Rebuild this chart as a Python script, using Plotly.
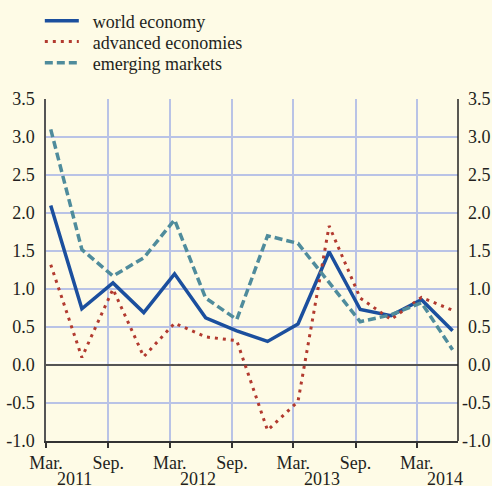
import plotly.graph_objects as go

quarters = ["2011-03-15", "2011-06-15", "2011-09-15", "2011-12-15",
            "2012-03-15", "2012-06-15", "2012-09-15", "2012-12-15",
            "2013-03-15", "2013-06-15", "2013-09-15", "2013-12-15",
            "2014-03-15", "2014-06-15"]

world = [2.10, 0.74, 1.08, 0.69, 1.20, 0.62, 0.45, 0.31, 0.54, 1.49, 0.73, 0.65, 0.86, 0.45]
advanced = [1.32, 0.10, 1.00, 0.11, 0.55, 0.37, 0.32, -0.86, -0.48, 1.83, 0.88, 0.60, 0.89, 0.72]
emerging = [3.10, 1.52, 1.17, 1.41, 1.91, 0.88, 0.60, 1.70, 1.60, 1.08, 0.57, 0.66, 0.82, 0.20]

series_names = ["world economy", "advanced economies", "emerging markets"]

x_tick_vals = ["2011-03-01", "2011-09-01", "2012-03-01", "2012-09-01",
               "2013-03-01", "2013-09-01", "2014-03-01"]
x_tick_text = ["Mar.", "Sep.", "Mar.", "Sep.", "Mar.", "Sep.", "Mar."]
years = ["2011", "2012", "2013", "2014"]

y_tick_vals = [-1.0, -0.5, 0.0, 0.5, 1.0, 1.5, 2.0, 2.5, 3.0, 3.5]
y_tick_text = ["%.1f" % v for v in y_tick_vals]

BG = "#FEFBE6"
GRID = "#B9C3E6"
FONT = "Liberation Serif"
FS = 18
TXT = "#231F20"
NB = "\u00a0\u00a0"

fig = go.Figure()
fig.add_trace(go.Scatter(x=quarters, y=world, mode="lines", name=NB + series_names[0],
                         legend="legend",
                         line=dict(color="#1B4F9E", width=3.5)))
fig.add_trace(go.Scatter(x=quarters, y=advanced, mode="lines", name=NB + series_names[1],
                         legend="legend2",
                         line=dict(color="#B23A2F", width=3, dash="3px,5px")))
fig.add_trace(go.Scatter(x=quarters, y=emerging, mode="lines", name=NB + series_names[2],
                         legend="legend3",
                         line=dict(color="#4F8C9C", width=3.5, dash="8px,4px")))

annotations = []
for yv, yt in zip(y_tick_vals, y_tick_text):
    annotations.append(dict(x=1, xref="paper", y=yv, yref="y", text=yt,
                            showarrow=False, xanchor="right", xshift=35,
                            font=dict(family=FONT, size=FS, color=TXT)))
for yr in years:
    annotations.append(dict(x=yr + "-05-24", xref="x", y=0, yref="paper",
                            text=yr, showarrow=False, yanchor="top", yshift=-26,
                            font=dict(family=FONT, size=FS, color=TXT)))

def legend_box(ycenter):
    return dict(x=-0.015, y=ycenter, xanchor="left", yanchor="middle",
                bgcolor="rgba(0,0,0,0)", borderwidth=0,
                font=dict(family=FONT, size=FS, color=TXT), itemwidth=34)

fig.update_layout(
    width=492, height=486,
    margin=dict(l=46, r=34, t=99, b=45, autoexpand=False),
    paper_bgcolor=BG, plot_bgcolor=BG,
    font=dict(family=FONT, size=FS, color=TXT),
    showlegend=True,
    legend=legend_box(1.228),
    legend2=legend_box(1.167),
    legend3=legend_box(1.105),
    xaxis=dict(type="date", range=["2011-03-01", "2014-07-01"],
               tickvals=x_tick_vals, ticktext=x_tick_text,
               showgrid=True, gridcolor=GRID, gridwidth=1.5,
               ticks="outside", ticklen=5, tickwidth=1.5, tickcolor="#333333",
               showline=True, linecolor="#333333", linewidth=1.5,
               zeroline=False, automargin=False,
               tickfont=dict(family=FONT, size=FS, color=TXT)),
    yaxis=dict(range=[-1.0, 3.5], tickvals=y_tick_vals, ticktext=y_tick_text,
               showgrid=True, gridcolor=GRID, gridwidth=1.5,
               zeroline=True, zerolinecolor="#555555", zerolinewidth=2,
               showline=True, linecolor="#555555", linewidth=1.5, mirror=False,
               ticks="", ticklabelstandoff=6, automargin=False,
               tickfont=dict(family=FONT, size=FS, color=TXT)),
    annotations=annotations,
    shapes=[
        dict(type="line", xref="paper", x0=1, x1=1, yref="paper", y0=0, y1=1,
             line=dict(color="#222222", width=1.5)),
        dict(type="line", xref="paper", x0=0, x1=1, yref="y", ysizemode="pixel",
             yanchor=0, y0=2.5, y1=2.5, line=dict(color="#FFFFFF", width=1.5),
             layer="below"),
    ],
)

fig.write_html("out.html", config={"displayModeBar": False},
               post_script="document.body.style.margin='0';document.body.style.padding='0';")
